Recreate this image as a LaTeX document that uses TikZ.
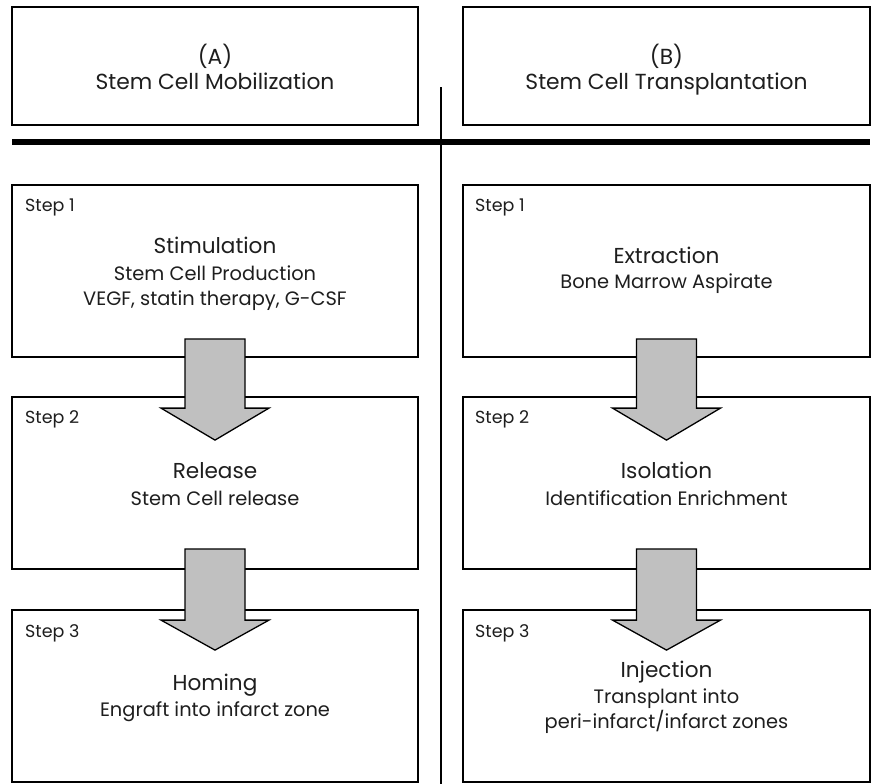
\documentclass[tikz,border=0pt]{standalone}
\usepackage{fontspec}
\setmainfont{Poppins}
\usetikzlibrary{calc}
\definecolor{arrowgray}{HTML}{C0C0C0}
\definecolor{ink}{HTML}{1E1E1E}
\begin{document}
\begin{tikzpicture}[x=1pt,y=-1pt,
  box/.style={draw=black, line width=1.8pt, fill=white, inner sep=0pt, rectangle},
  steplbl/.style={anchor=base west, inner sep=0pt, text=ink, font=\fontsize{17.5}{19}\selectfont},
  toptxt/.style={anchor=base, inner sep=0pt, text=ink, font=\fontsize{21.8}{24}\selectfont},
  ttl/.style={anchor=base, inner sep=0pt, text=ink, font=\fontsize{21.6}{24}\selectfont},
  sub/.style={anchor=base, inner sep=0pt, text=ink, font=\fontsize{19.4}{21}\selectfont},
  flow/.style={fill=arrowgray, draw=black, line width=1.3pt, line join=miter}]
\useasboundingbox[fill=white] (0,0) rectangle (875,784);

% divider lines
\coordinate (vtop) at (441,87);
\coordinate (vbot) at (441,784);
\coordinate (hl) at (12,142);
\coordinate (hr) at (870,142);
\draw[line width=1.4pt] (vtop) -- (vbot);
\draw[line width=6pt] (hl) -- (hr);

% header boxes
\node[box, minimum width=406pt, minimum height=118pt] (TA) at (215,66) {};
\node[box, minimum width=407pt, minimum height=118pt] (TB) at (666.5,66) {};
\node[toptxt] (TAa) at (215,64) {(A)};
\node[toptxt] (TAb) at (215,89) {Stem Cell Mobilization};
\node[toptxt] (TBa) at (666.5,64) {(B)};
\node[toptxt] (TBb) at (666.5,89) {Stem Cell Transplantation};

% step boxes
\node[box, minimum width=406pt, minimum height=172pt] (L1) at (215,271) {};
\node[box, minimum width=406pt, minimum height=172pt] (L2) at (215,483) {};
\node[box, minimum width=406pt, minimum height=172pt] (L3) at (215,696) {};
\node[box, minimum width=407pt, minimum height=172pt] (R1) at (666.5,271) {};
\node[box, minimum width=407pt, minimum height=172pt] (R2) at (666.5,483) {};
\node[box, minimum width=407pt, minimum height=172pt] (R3) at (666.5,696) {};

% arrows
\foreach \a/\b in {L1/L2,R1/R2}{
  \draw[flow] ($(\a.south)+(-30,-19)$) -- ($(\a.south)+(30,-19)$)
    -- ($(\b.north)+(30,12)$) -- ($(\b.north)+(54,12)$)
    -- ($(\b.north)+(0,44)$) -- ($(\b.north)+(-54,12)$)
    -- ($(\b.north)+(-30,12)$) -- cycle;
}
\foreach \a/\b in {L2/L3,R2/R3}{
  \draw[flow] ($(\a.south)+(-30,-21)$) -- ($(\a.south)+(30,-21)$)
    -- ($(\b.north)+(30,11)$) -- ($(\b.north)+(54,11)$)
    -- ($(\b.north)+(0,41)$) -- ($(\b.north)+(-54,11)$)
    -- ($(\b.north)+(-30,11)$) -- cycle;
}

% step labels
\node[steplbl] (L1s) at (25,211) {Step 1};
\node[steplbl] (L2s) at (25,423) {Step 2};
\node[steplbl] (L3s) at (25,637) {Step 3};
\node[steplbl] (R1s) at (475,211) {Step 1};
\node[steplbl] (R2s) at (475,423) {Step 2};
\node[steplbl] (R3s) at (475,637) {Step 3};

% left texts
\node[ttl] (L1t) at (215,253) {Stimulation};
\node[sub] (L1a) at (215,280) {Stem Cell Production};
\node[sub] (L1b) at (215,305) {VEGF, statin therapy, G-CSF};
\node[ttl] (L2t) at (215,478) {Release};
\node[sub] (L2a) at (215,505) {Stem Cell release};
\node[ttl] (L3t) at (215,690) {Homing};
\node[sub] (L3a) at (215,716) {Engraft into infarct zone};

% right texts
\node[ttl] (R1t) at (666.5,263) {Extraction};
\node[sub] (R1a) at (666.5,288) {Bone Marrow Aspirate};
\node[ttl] (R2t) at (666.5,478) {Isolation};
\node[sub] (R2a) at (666.5,505) {Identification Enrichment};
\node[ttl] (R3t) at (666.5,677) {Injection};
\node[sub] (R3a) at (666.5,703) {Transplant into};
\node[sub] (R3b) at (666.5,728) {peri-infarct/infarct zones};
\end{tikzpicture}
\end{document}
